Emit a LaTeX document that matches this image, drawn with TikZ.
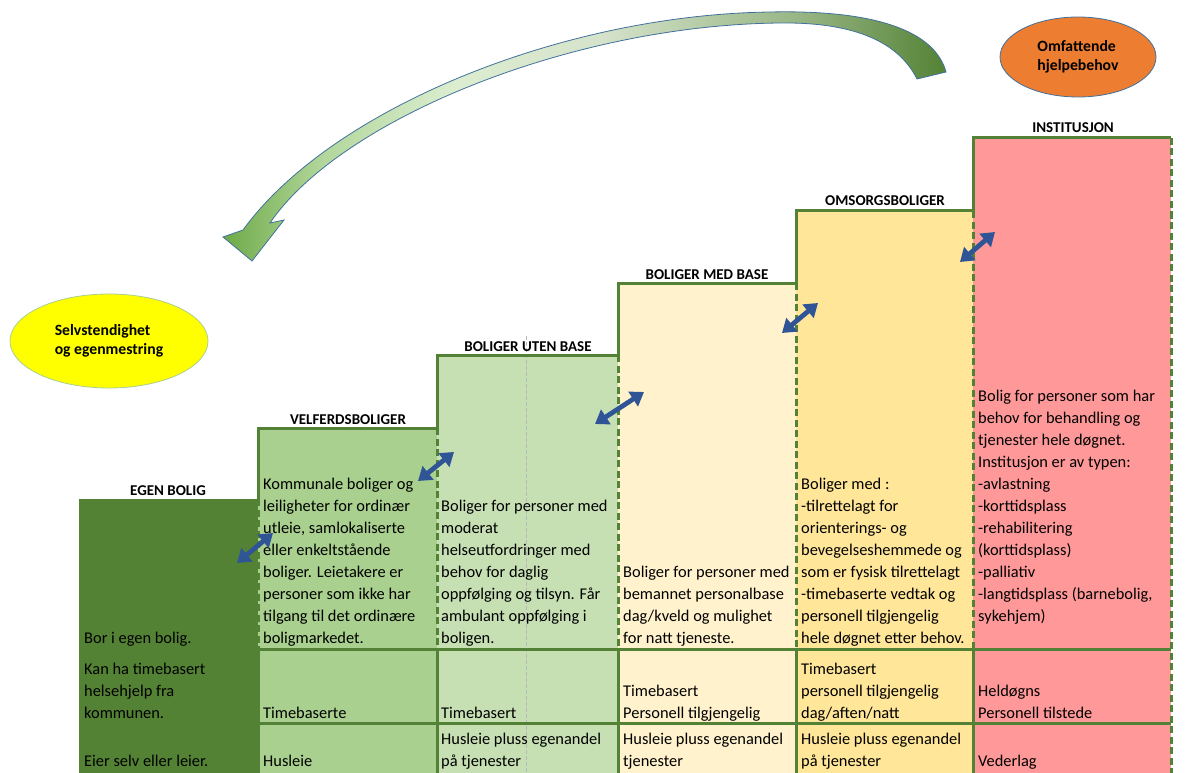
\documentclass[tikz,border=0pt]{standalone}
\usepackage{fontspec}
\setmainfont{Carlito}
\usetikzlibrary{shapes.geometric,arrows.meta}

\definecolor{egen}{HTML}{548235}
\definecolor{velf}{HTML}{A9D08E}
\definecolor{uten}{HTML}{C6E0B4}
\definecolor{medb}{HTML}{FFF2CC}
\definecolor{omsorg}{HTML}{FFE699}
\definecolor{inst}{HTML}{FF9999}
\definecolor{kant}{HTML}{538135}
\definecolor{pil}{HTML}{2F5597}
\definecolor{pilkant}{HTML}{41719C}
\definecolor{gula}{HTML}{FFFF00}
\definecolor{oransje}{HTML}{ED7D31}
\definecolor{gA}{HTML}{6EAA48}
\definecolor{gB}{HTML}{B3D79C}
\definecolor{gC}{HTML}{DCEDD0}
\definecolor{gD}{HTML}{D6E3CB}
\definecolor{gE}{HTML}{97B584}
\definecolor{gF}{HTML}{548235}

\pgfdeclarehorizontalshading{buepil}{100bp}{color(0bp)=(gA); color(25bp)=(gA);
  color(32bp)=(gB); color(41bp)=(gC); color(51bp)=(gD); color(65bp)=(gE);
  color(75bp)=(gF); color(100bp)=(gF)}

\begin{document}
\begin{tikzpicture}
  [x=1pt,y=-1pt,
   txt/.style={anchor=south west,inner sep=0pt,align=left,
     font=\fontsize{16.4}{22}\selectfont,execute at end node=\strut},
   tittel/.style={anchor=base,inner sep=0pt,font=\bfseries\fontsize{15}{17}\selectfont},
   boble/.style={ellipse,align=left,line width=0.8pt,
     font=\bfseries\fontsize{15.7}{19}\selectfont},
   kantlinje/.style={draw=kant,line width=3pt},
   stiplet/.style={draw=kant,line width=3pt,dash pattern=on 7pt off 3.5pt},
   dobbelpil/.style={draw=pil,line width=4.8pt,
     {Triangle[length=13pt,width=17pt]}-{Triangle[length=13pt,width=17pt]}}]
  \useasboundingbox (0,0) rectangle (1203,773);

  % trappetrinn
  \fill[egen]   (79,499)  rectangle (258,773);
  \fill[velf]   (258,428) rectangle (437,773);
  \fill[uten]   (437,355) rectangle (618,773);
  \fill[medb]   (618,283) rectangle (796,773);
  \fill[omsorg] (796,211) rectangle (973,773);
  \fill[inst]   (973,138) rectangle (1171,773);

  \draw[gray!55,line width=0.8pt,dash pattern=on 4pt off 2pt] (526,336) -- (526,773);

  \draw[kantlinje] (258,499) -- (258,428) -- (437,428) -- (437,355) -- (618,355)
    -- (618,283) -- (796,283) -- (796,211) -- (973,211) -- (973,138) -- (1171,138);
  \foreach \x/\y in {258/499,437/428,618/355,796/283,973/211}
    \draw[stiplet] (\x,\y) -- (\x,649);
  \draw[stiplet] (1171,138) -- (1171,773);
  \draw[kantlinje] (258,649) -- (1171,649);
  \draw[kantlinje] (258,723) -- (1171,723);
  \foreach \x in {258,437,618,796,973}
    \draw[kantlinje] (\x,649) -- (\x,773);

  % overskrifter
  \node[tittel] (t-egen)   at (168,495) {EGEN BOLIG};
  \node[tittel] (t-velf)   at (348,424) {VELFERDSBOLIGER};
  \node[tittel] (t-uten)   at (528,351) {BOLIGER UTEN BASE};
  \node[tittel] (t-med)    at (707,279) {BOLIGER MED BASE};
  \node[tittel] (t-omsorg) at (885,206) {OMSORGSBOLIGER};
  \node[tittel] (t-inst)   at (1073,133) {INSTITUSJON};

  % tekst i cellene
  \node[txt] (egen-hoved) at (84,650) {Bor i egen bolig.};
  \node[txt] (egen-hjelp) at (84,725.5) {Kan ha timebasert\\helsehjelp fra\\kommunen.};
  \node[txt] (egen-bet)   at (84,773.5) {Eier selv eller leier.};

  \node[txt] (velf-hoved) at (263,650) {Kommunale boliger og\\leiligheter for ordinær\\utleie, samlokaliserte\\eller enkeltstående\\boliger. Leietakere er\\personer som ikke har\\tilgang til det ordinære\\boligmarkedet.};
  \node[txt] (velf-hjelp) at (263,725.5) {Timebaserte};
  \node[txt] (velf-bet)   at (263,773.5) {Husleie};

  \node[txt] (uten-hoved) at (441,650) {Boliger for personer med\\moderat\\helseutfordringer med\\behov for daglig\\oppfølging og tilsyn. Får\\ambulant oppfølging i\\boligen.};
  \node[txt] (uten-hjelp) at (441,725.5) {Timebasert};
  \node[txt] (uten-bet)   at (441,773.5) {Husleie pluss egenandel\\på tjenester};

  \node[txt] (med-hoved) at (623,650) {Boliger for personer med\\bemannet personalbase\\dag/kveld og mulighet\\for natt tjeneste.};
  \node[txt] (med-hjelp) at (623,725.5) {Timebasert\\Personell tilgjengelig};
  \node[txt] (med-bet)   at (623,773.5) {Husleie pluss egenandel\\tjenester};

  \node[txt] (omsorg-hoved) at (801,650) {Boliger med :\\-tilrettelagt for\\orienterings- og\\bevegelseshemmede og\\som er fysisk tilrettelagt\\-timebaserte vedtak og\\personell tilgjengelig\\hele døgnet etter behov.};
  \node[txt] (omsorg-hjelp) at (801,725.5) {Timebasert\\personell tilgjengelig\\dag/aften/natt};
  \node[txt] (omsorg-bet)   at (801,773.5) {Husleie pluss egenandel\\på tjenester};

  \node[txt] (inst-hoved) at (978,628) {Bolig for personer som har\\behov for behandling og\\tjenester hele døgnet.\\Institusjon er av typen:\\-avlastning\\-korttidsplass\\-rehabilitering\\(korttidsplass)\\-palliativ\\-langtidsplass (barnebolig,\\sykehjem)};
  \node[txt] (inst-hjelp) at (978,725.5) {Heldøgns\\Personell tilstede};
  \node[txt] (inst-bet)   at (978,773.5) {Vederlag};

  % bobler
  \node[boble,fill=gula,draw=velf,minimum width=198pt,minimum height=94pt] (selv) at (109,341) {Selvstendighet\\og egenmestring};
  \node[boble,fill=oransje,draw=pilkant,minimum width=156pt,minimum height=80pt] (hjelp) at (1078,57) {Omfattende\\hjelpebehov};

  % store buepilen
  \shade[shading=buepil,draw=pilkant,line width=0.8pt]
    (946,72) .. controls (933,25) and (860,10) .. (770,12)
    .. controls (560,15) and (330,110) .. (243,230)
    -- (223,237) -- (252,261) -- (284,220) -- (270,223)
    .. controls (340,120) and (570,25) .. (780,23)
    .. controls (860,22) and (900,45) .. (917,79) -- cycle;

  % dobbeltpiler mellom trinnene
  \coordinate (a1) at (237,563); \coordinate (b1) at (273,533);
  \coordinate (a2) at (418,481); \coordinate (b2) at (454,452);
  \coordinate (a3) at (595,424); \coordinate (b3) at (644,392);
  \coordinate (a4) at (782,333); \coordinate (b4) at (818,303);
  \coordinate (a5) at (960,262); \coordinate (b5) at (995,232);
  \foreach \from/\to in {a1/b1,a2/b2,a3/b3,a4/b4,a5/b5}
    \draw[dobbelpil] (\from) -- (\to);
\end{tikzpicture}
\end{document}
